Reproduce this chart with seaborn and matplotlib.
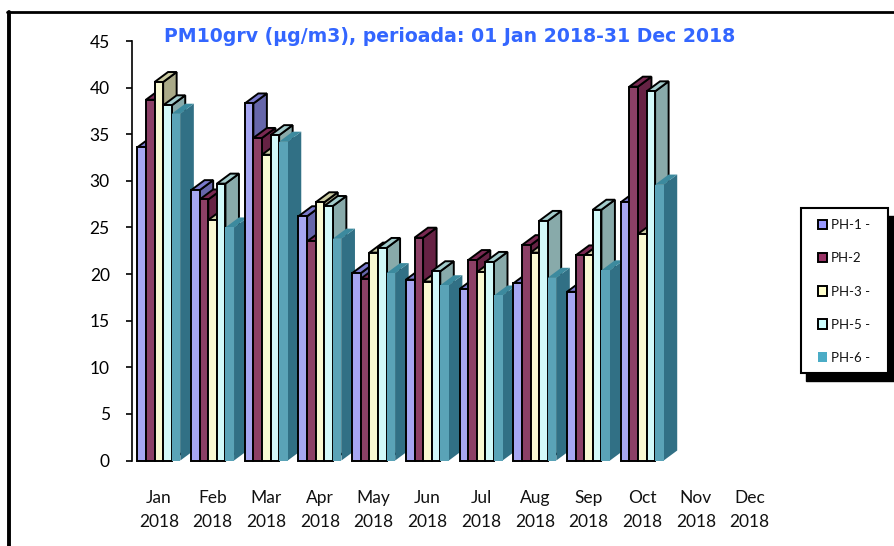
import matplotlib
matplotlib.use("Agg")
import numpy as np
import pandas as pd
from matplotlib import pyplot as plt
from matplotlib.lines import Line2D
from matplotlib.patches import Patch, Polygon, Rectangle
import seaborn as sns

months = ["Jan", "Feb", "Mar", "Apr", "May", "Jun", "Jul", "Aug", "Sep", "Oct", "Nov", "Dec"]
ph1 = [33.6, 29.0, 38.3, 26.2, 20.1, 19.4, 18.4, 19.0, 18.1, 27.7, np.nan, np.nan]
ph2 = [38.7, 28.0, 34.6, 23.5, 19.5, 23.9, 21.5, 23.1, 22.0, 40.1, np.nan, np.nan]
ph3 = [40.6, 25.8, 32.8, 27.7, 22.3, 19.2, 20.2, 22.3, 22.0, 24.3, np.nan, np.nan]
ph5 = [38.1, 29.7, 34.9, 27.3, 22.8, 20.3, 21.3, 25.7, 26.9, 39.6, np.nan, np.nan]
ph6 = [37.2, 25.0, 34.2, 23.8, 20.1, 18.8, 17.7, 19.6, 20.4, 29.6, np.nan, np.nan]
stations = ["PH-1 -", "PH-2", "PH-3 -", "PH-5 -", "PH-6 -"]

front_colors = ["#9999ff", "#993366", "#ffffcc", "#ccffff", "#4bacc6"]
side_colors = ["#6666aa", "#662244", "#aaaa88", "#88aaaa", "#317085"]
top_colors = ["#7a7acc", "#7a2952", "#cccca3", "#a3cccc", "#3c8a9e"]
edge_colors = ["black", "black", "black", "black", "none"]

W, H = 895, 546
sns.set_style("white")
plt.rcParams["font.family"] = ["Lato", "DejaVu Sans"]

labels = [f"{m}\n2018" for m in months]
data = pd.DataFrame({"month": labels * 5,
                     "station": np.repeat(stations, 12),
                     "value": ph1 + ph2 + ph3 + ph5 + ph6})

fig = plt.figure(figsize=(W / 100, H / 100), dpi=100, facecolor="white")
ax = fig.add_axes([132 / W, 1 - 460.5 / H, 644.5 / W, 419.5 / H], facecolor="none")
sns.barplot(data=data, x="month", y="value", hue="station", order=labels, hue_order=stations,
            palette=front_colors, width=0.8, gap=0, legend=False, ax=ax)
ax.set_xlim(-0.5, 11.5)
ax.set_ylim(0, 45)

# fake 3d depth, offsets are in data units (about 13.5px right, 10px up)
dx = 13.5 / 53.7
dy = 10 / 9.32
lw = 1.4
for i, container in enumerate(ax.containers):
    for bar in container:
        x0, x1 = bar.get_x(), bar.get_x() + bar.get_width()
        h = bar.get_height()
        if np.isnan(h):
            continue
        # later months and later stations paint over earlier ones
        order = np.floor(x0 + 0.5) * 10 + 2 * i + 3
        ec = edge_colors[i]
        side = Polygon([(x1, 0), (x1 + dx, dy), (x1 + dx, h + dy), (x1, h)], closed=True,
                       facecolor=side_colors[i], edgecolor=ec, lw=lw, zorder=order, clip_on=False)
        top = Polygon([(x0, h), (x0 + dx, h + dy), (x1 + dx, h + dy), (x1, h)], closed=True,
                      facecolor=top_colors[i], edgecolor=ec, lw=lw, zorder=order, clip_on=False)
        ax.add_patch(side)
        ax.add_patch(top)
        bar.set_edgecolor(ec)
        bar.set_linewidth(lw)
        bar.set_zorder(order + 1)
        bar.set_clip_on(False)

ax.set_xlabel("")
ax.set_ylabel("")
ax.set_yticks(range(0, 50, 5))
ax.tick_params(axis="y", length=4.5, width=1.2, color="black", labelsize=12.5, labelcolor="black", pad=11.5, left=True)
ax.tick_params(axis="x", length=0, labelsize=12.5, labelcolor="#111111", pad=21.5)
for t in ax.get_xticklabels():
    t.set_linespacing(1.6)
for name in ["top", "right", "bottom"]:
    ax.spines[name].set_visible(False)
ax.spines["left"].set_linewidth(1.2)
ax.spines["left"].set_color("black")

fig.text(450 / W, 1 - 36 / H, "PM10grv (µg/m3), perioada: 01 Jan 2018-31 Dec 2018",
         family="DejaVu Sans", fontweight="bold", fontsize=13.6, color="#3366ff", ha="center", va="center")

# outer frame, only top and left show in the picture
fig.add_artist(Line2D([9 / W, 9 / W], [0, 1 - 12 / H], color="black", lw=2.8))
fig.add_artist(Line2D([7 / W, 1], [1 - 12.2 / H, 1 - 12.2 / H], color="black", lw=2))

# legend box with hard shadow
fig.add_artist(Rectangle((806 / W, 1 - 381 / H), 89 / W, 165 / H, transform=fig.transFigure,
                         facecolor="black", edgecolor="black", lw=1, zorder=2))
fig.add_artist(Rectangle((801 / W, 1 - 373 / H), 87 / W, 165 / H, transform=fig.transFigure,
                         facecolor="white", edgecolor="black", lw=1.5, zorder=3))
handles = [Patch(facecolor=c, edgecolor=e, lw=1.4) for c, e in zip(front_colors, edge_colors)]
fig.legend(handles, stations, loc="center left", bbox_to_anchor=(818 / W, 1 - 291.5 / H), frameon=False,
           fontsize=9.5, labelspacing=1.6, handlelength=0.7, handleheight=0.7, handletextpad=0.3,
           borderpad=0, borderaxespad=0, labelcolor="#111111")

fig.savefig("out.png", dpi=100)
